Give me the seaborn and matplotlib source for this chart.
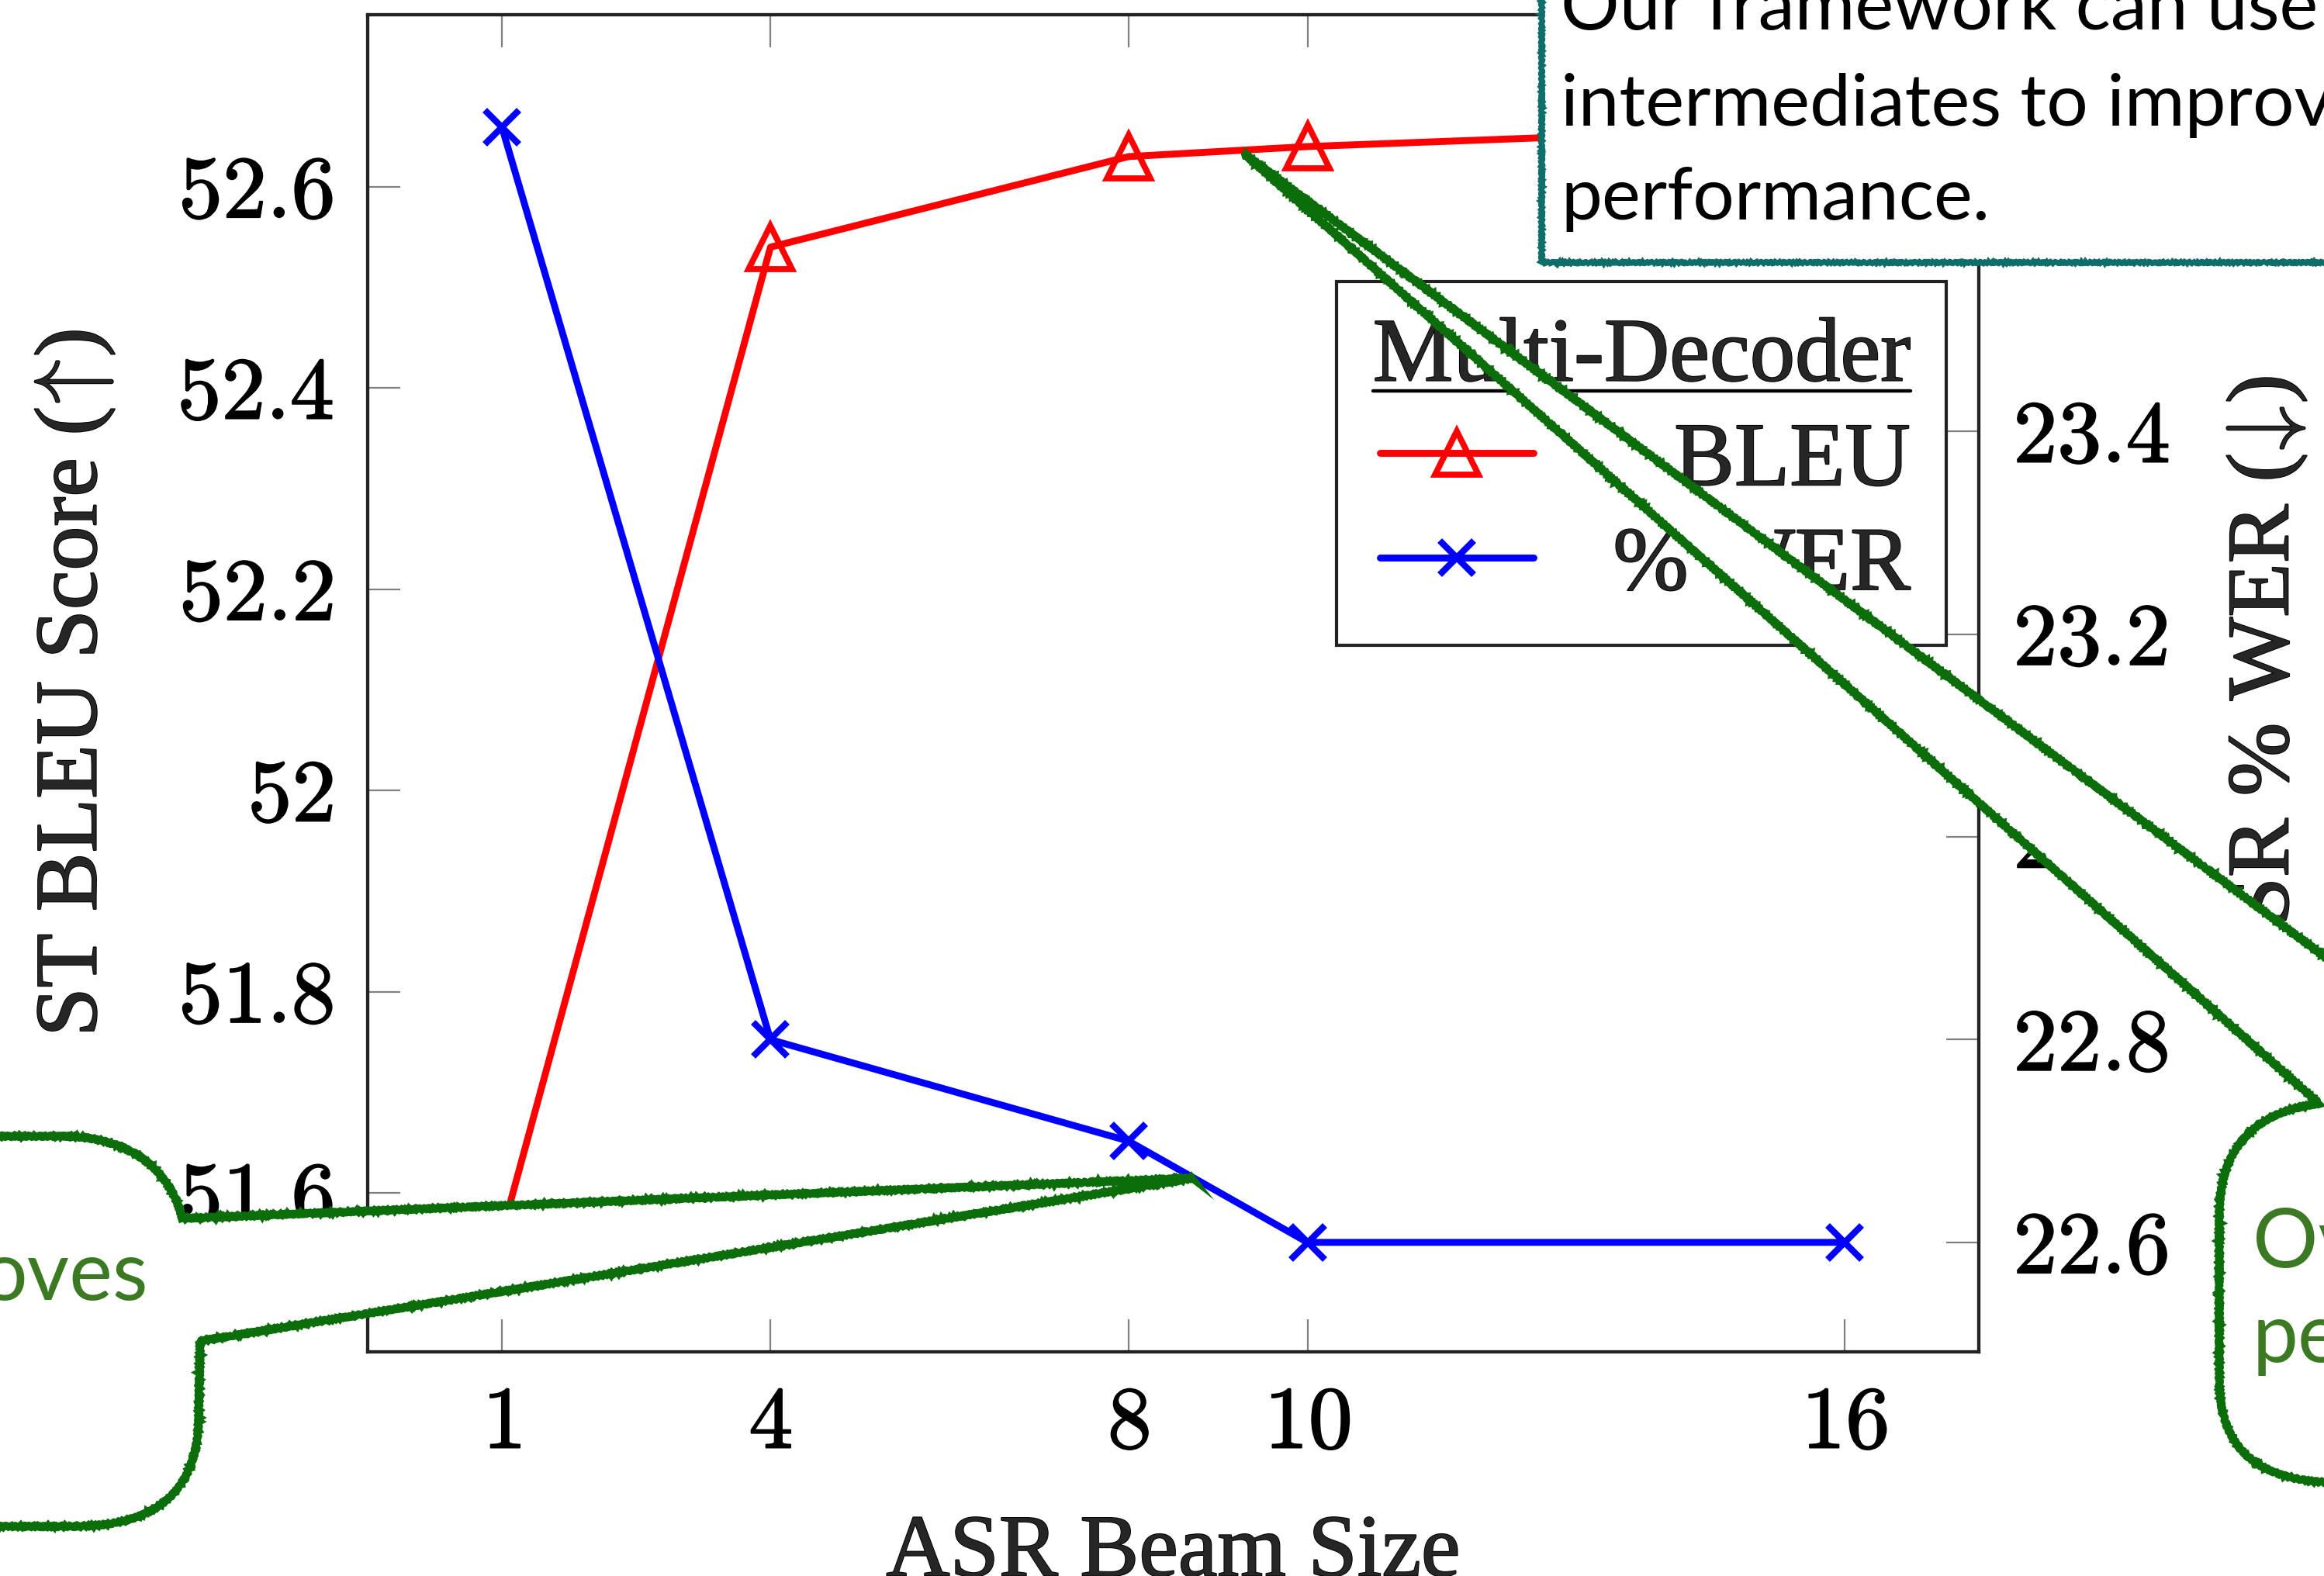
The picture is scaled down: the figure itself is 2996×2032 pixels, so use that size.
import matplotlib
matplotlib.use('Agg')
import matplotlib.pyplot as plt
import matplotlib.patheffects as pe
import seaborn as sns
from matplotlib.path import Path
from matplotlib.patches import PathPatch, Polygon
from matplotlib.lines import Line2D
from matplotlib.transforms import Affine2D, IdentityTransform
from matplotlib.ticker import FixedLocator, FuncFormatter

# data
beam_sizes = [1, 4, 8, 10, 16]
bleu_scores = [51.56, 52.54, 52.63, 52.64, 52.66]
wer_scores = [23.70, 22.80, 22.70, 22.60, 22.60]
bleu_ticks = [51.6, 51.8, 52.0, 52.2, 52.4, 52.6]
wer_ticks = [22.6, 22.8, 23.0, 23.2, 23.4]
series_labels = ['BLEU', '% WER']
legend_title = 'Multi-Decoder'
note_top = ['Our framework can use', 'intermediates to improve', 'performance.']
note_left = ['oves']
note_right = ['Ov', 'pe']

W, H, DPI = 2996, 2032, 200
FS = 41

sns.set_style('white')
plt.rcParams['font.family'] = ['Liberation Serif', 'DejaVu Serif']
plt.rcParams['mathtext.fontset'] = 'cm'

fig = plt.figure(figsize=(W / DPI, H / DPI), dpi=DPI)
ax = fig.add_axes([474 / W, 1 - 1743 / H, (2551 - 474) / W, (1743 - 19) / H])
ax2 = ax.twinx()

sns.lineplot(x=beam_sizes, y=bleu_scores, ax=ax, color='#ff0000', marker='^',
             markersize=20, mfc='none', mec='#ff0000', mew=2.8, lw=3.2)
sns.lineplot(x=beam_sizes, y=wer_scores, ax=ax2, color='#0000ff', marker='x',
             markersize=16, mec='#0000ff', mew=3.0, lw=3.2)

ax.set_xlim(-0.5, 17.5)
ax.set_ylim(51.442, 52.771)
ax2.set_ylim(22.492, 23.811)

fmt = FuncFormatter(lambda v, _: f'${v:g}$')
ax.xaxis.set_major_locator(FixedLocator(beam_sizes))
ax.yaxis.set_major_locator(FixedLocator(bleu_ticks))
ax2.yaxis.set_major_locator(FixedLocator(wer_ticks))
ax.xaxis.set_major_formatter(fmt)
ax.yaxis.set_major_formatter(fmt)
ax2.yaxis.set_major_formatter(fmt)

tick_kw = dict(direction='in', length=15, width=0.8, color='#808080',
               labelsize=FS, labelcolor='black', pad=16)
ax.tick_params(axis='x', top=True, bottom=True, **tick_kw)
ax.tick_params(axis='y', left=True, right=False, **tick_kw)
ax2.tick_params(axis='y', right=True, left=False, **tick_kw)

for a in (ax, ax2):
    for s in a.spines.values():
        s.set_linewidth(1.5)
        s.set_color('#222222')

ax.set_xlabel('ASR Beam Size', fontsize=FS, labelpad=22)
ax.set_ylabel('ST BLEU Score ($\\!\\uparrow\\!$)', fontsize=FS, labelpad=28)
ax2.set_ylabel('ASR % WER ($\\!\\downarrow\\!$)', fontsize=FS, labelpad=26)

leg = ax2.legend([ax.get_lines()[0], ax2.get_lines()[0]], series_labels,
                 title=legend_title, loc='upper right', bbox_to_anchor=(0.98, 0.8005),
                 borderaxespad=0, prop={'size': FS + 1}, title_fontsize=FS + 1,
                 frameon=True, fancybox=False, edgecolor='#222222', framealpha=1,
                 borderpad=0.4, labelspacing=0.24, handlelength=1.7, handletextpad=0.8)
leg.get_frame().set_linewidth(1.5)

# heavier strokes, like the rasterised LaTeX text of the reference
bold = [pe.withStroke(linewidth=0.7, foreground='black')]
texts = (ax.get_xticklabels() + ax.get_yticklabels() + ax2.get_yticklabels()
         + [ax.xaxis.label, ax.yaxis.label, ax2.yaxis.label, leg.get_title()]
         + leg.get_texts())
for t in texts:
    t.set_path_effects(bold)

# overlay callouts, positioned in image pixels (y down)
px = Affine2D().scale(1 / W, -1 / H).translate(0, 1) + fig.transFigure
green = '#0b6e0b'
green_text = '#3b7a23'
teal = '#0f6e6a'
sans = ['Lato', 'DejaVu Sans']

M, L, C4, CL = Path.MOVETO, Path.LINETO, Path.CURVE4, Path.CLOSEPOLY

left_verts = [(-100, 1465), (80, 1465), (170, 1465), (220, 1510), (235, 1571),
              (1538, 1519), (258, 1729), (256, 1830),
              (254, 1960), (150, 1968), (90, 1968), (-100, 1968), (0, 0)]
left_codes = [M, L, C4, C4, C4, L, L, L, C4, C4, C4, L, CL]

right_verts = [(1605, 199), (3100, 1310), (3100, 1950), (2996, 1911),
               (2900, 1905), (2861, 1860), (2861, 1777), (2861, 1567),
               (2861, 1460), (2930, 1430), (2990, 1423), (0, 0)]
right_codes = [M, L, L, L, C4, C4, C4, L, C4, C4, C4, CL]

for verts, codes in [(left_verts, left_codes), (right_verts, right_codes)]:
    pp = PathPatch(Path(verts, codes), transform=px, facecolor='white',
                   edgecolor=green, linewidth=3.3, zorder=10)
    pp.set_sketch_params(scale=1.4, length=6, randomness=2)
    fig.add_artist(pp)

box = Polygon([(1987, -60), (1987, 338), (3100, 338), (3100, -60)], closed=True,
              transform=px, facecolor='white', edgecolor=teal, linewidth=2.4, zorder=10)
box.set_sketch_params(scale=1.4, length=6, randomness=2)
fig.add_artist(box)

for line, y in zip(note_top, [38, 162, 283]):
    fig.text(2012, y, line, transform=px, family=sans, fontsize=34,
             color='black', va='baseline', ha='left', zorder=11)
for line, y in zip(note_left, [1676]):
    fig.text(191, y, line, transform=px, family=sans, fontsize=38,
             color=green_text, va='baseline', ha='right', zorder=11)
for line, y in zip(note_right, [1634, 1756]):
    fig.text(2904, y, line, transform=px, family=sans, fontsize=38,
             color=green_text, va='baseline', ha='left', zorder=11)

# right-align legend entries to the title and underline the title
fig.canvas.draw()
renderer = fig.canvas.get_renderer()
tb = leg.get_title().get_window_extent(renderer)
for t in leg.get_texts():
    bb = t.get_window_extent(renderer)
    t.set_position((tb.x1 - bb.x1, 0))
uy = tb.y0 + 12
fig.add_artist(Line2D([tb.x0, tb.x1], [uy, uy], transform=IdentityTransform(),
                      color='black', linewidth=1.6, zorder=5))

fig.savefig('out.png', dpi=DPI)
